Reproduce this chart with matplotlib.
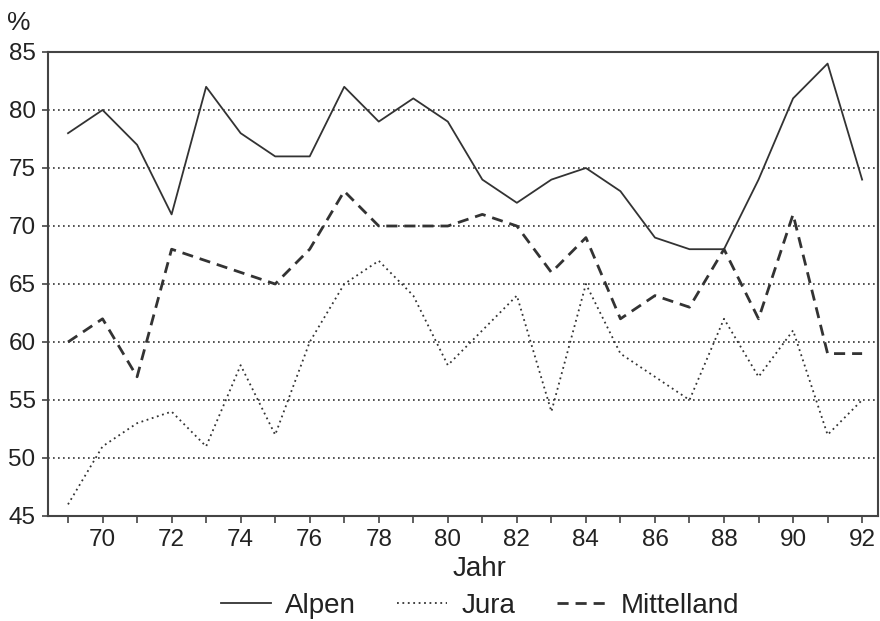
import matplotlib.pyplot as plt
import numpy as np

plt.rcParams['font.family'] = ['Liberation Sans', 'DejaVu Sans']

years = np.arange(1969, 1993)
alpen = [78, 80, 77, 71, 82, 78, 76, 76, 82, 79, 81, 79,
         74, 72, 74, 75, 73, 69, 68, 68, 74, 81, 84, 74]
jura = [46, 51, 53, 54, 51, 58, 52, 60, 65, 67, 64, 58,
        61, 64, 54, 65, 59, 57, 55, 62, 57, 61, 52, 55]
mittelland = [60, 62, 57, 68, 67, 66, 65, 68, 73, 70, 70, 70,
              71, 70, 66, 69, 62, 64, 63, 68, 62, 71, 59, 59]

ink = '#333333'

fig = plt.figure(figsize=(8.8, 6.21), dpi=100)
ax = fig.add_axes([48 / 880, 1 - 516 / 621, 830 / 880, 464 / 621])

ax.plot(years, alpen, color=ink, lw=1.3, ls='-', label='Alpen')
ax.plot(years, jura, color=ink, lw=1.3, ls=(0, (1, 2)), label='Jura')
ax.plot(years, mittelland, color=ink, lw=2.0, ls=(0, (4, 2.5)), label='Mittelland')

ax.set_xlim(1968.42, 1992.46)
ax.set_ylim(45, 85)
ax.set_yticks(range(45, 86, 5))
ax.set_xticks(years, minor=True)
ax.set_xticks(range(1970, 1993, 2))
ax.set_xticklabels([str(y % 100) for y in range(1970, 1993, 2)])

# gestrichelte Hilfslinien
for v in range(50, 85, 5):
    ax.axhline(v, color=ink, lw=1.2, ls=(0, (1, 2)), zorder=0)

for s in ax.spines.values():
    s.set_color('#444444')
    s.set_linewidth(1.5)

ax.tick_params(axis='both', which='both', colors='#444444', labelcolor='#222222',
               labelsize=17.5, width=1.2)
ax.tick_params(axis='y', length=4, pad=5)
ax.tick_params(axis='x', which='both', length=5, pad=4)

ax.set_xlabel('Jahr', fontsize=20, color='#222222', va='center')
ax.xaxis.set_label_coords((480 - 48) / 830, (516 - 569) / 464)
fig.text(7 / 880, 1 - 23 / 621, '%', fontsize=19, color='#222222', va='center', ha='left')

fig.legend(loc='center', bbox_to_anchor=(480 / 880, 1 - 606 / 621), ncol=3,
           frameon=False, fontsize=20, handlelength=1.8, handletextpad=0.5,
           columnspacing=1.5, labelcolor='#222222')

fig.savefig('out.png', dpi=100)
